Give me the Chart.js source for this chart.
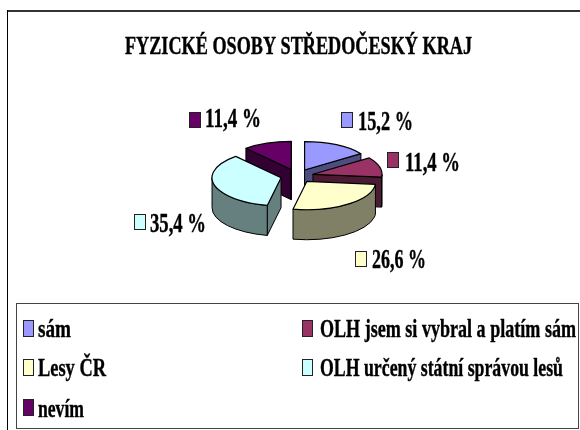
<!DOCTYPE html>
<html><head><meta charset="utf-8">
<style>html,body{margin:0;padding:0;background:#fff}canvas{display:block}</style>
<script src="https://cdn.jsdelivr.net/npm/chart.js@4/dist/chart.umd.js"></script>
</head><body><canvas id="c" width="580" height="430"></canvas>
<script>
const titleText = 'FYZICKÉ OSOBY STŘEDOČESKÝ KRAJ';
const categories = ['sám','OLH jsem si vybral a platím sám','Lesy ČR','OLH určený státní správou lesů','nevím'];
const values = [15.2,11.4,26.6,35.4,11.4];
const topColors = ['#9999FF','#993366','#FFFFCC','#CCFFFF','#660066'];
const sideColors = ['#4D4D80','#4D1A33','#808066','#668080','#330033'];

const SERIF = '"Liberation Serif"';
const SQUASH = 0.41, DEPTH = 30, EXPLODE = 16.5, RADIUS = 69, INK = '#000';
// [swatch x, swatch y, text x, baseline, text width] per slice
const labelBoxes = [[341,112,358,130,55],[387,152,405,171,55],[355,251,372,268,54],[134,214,150,232,56],[189,112,205,127,56]];
const legendBoxes = [[23,320,38,337,33],[302,320,320,337,256],[23,359,38,376,68],[302,359,320,376,243],[23,399,38,417,46]];

function squeezed(ctx,text,x,y,size,width){
  ctx.save();ctx.font='bold '+size+'px '+SERIF;ctx.fillStyle='#000';ctx.strokeStyle='#000';ctx.lineWidth=0.4;ctx.textAlign='left';ctx.textBaseline='alphabetic';
  ctx.fillText(text,x,y,width);ctx.strokeText(text,x,y,width);ctx.restore();
}
function swatch(ctx,x,y,w,h,c){ctx.save();ctx.fillStyle=c;ctx.strokeStyle='#222';ctx.lineWidth=1;ctx.fillRect(x+.5,y+.5,w,h);ctx.strokeRect(x+.5,y+.5,w,h);ctx.restore();}

function geom(arc){
  const a0=arc.startAngle,a1=arc.endAngle,mid=(a0+a1)/2;
  return {a0,a1,mid,R:arc.outerRadius,cx:arc.x+Math.cos(mid)*EXPLODE,cy:arc.y+Math.sin(mid)*EXPLODE*SQUASH};
}
function pt(g,a){return [g.cx+g.R*Math.cos(a),g.cy+SQUASH*g.R*Math.sin(a)];}
function radialFace(ctx,g,a,color){
  const e=pt(g,a);
  ctx.beginPath();ctx.moveTo(g.cx,g.cy);ctx.lineTo(e[0],e[1]);ctx.lineTo(e[0],e[1]+DEPTH);ctx.lineTo(g.cx,g.cy+DEPTH);ctx.closePath();
  ctx.fillStyle=color;ctx.fill();ctx.stroke();
}

const pie3d = {
  id:'pie3d',
  beforeDraw(chart){
    const ctx=chart.ctx;ctx.save();
    ctx.fillStyle='#fff';ctx.fillRect(0,0,580,430);
    ctx.strokeStyle='#333';ctx.lineWidth=2;ctx.beginPath();ctx.moveTo(7,11);ctx.lineTo(580,11);ctx.stroke();
    ctx.strokeStyle='#000';ctx.lineWidth=1;ctx.beginPath();ctx.moveTo(7.5,10);ctx.lineTo(7.5,430);ctx.stroke();
    ctx.strokeStyle='#444';ctx.lineWidth=1;ctx.strokeRect(16.5,303.5,562,125);
    ctx.restore();
  },
  beforeDatasetsDraw(chart){
    const ctx=chart.ctx,arcs=chart.getDatasetMeta(0).data;
    const order=arcs.map((a,i)=>[geom(a),i]).sort((p,q)=>p[0].cy-q[0].cy);
    ctx.save();ctx.strokeStyle=INK;ctx.lineWidth=1;ctx.lineJoin='round';
    order.forEach(([g,i])=>{
      const col=sideColors[i];
      if(-Math.cos(g.a0)>-1e-6)radialFace(ctx,g,g.a0,col);
      if(Math.cos(g.a1)>-1e-6)radialFace(ctx,g,g.a1,col);
      const s=Math.max(g.a0,0),e=Math.min(g.a1,Math.PI);
      if(e>s){
        ctx.beginPath();
        ctx.ellipse(g.cx,g.cy,g.R,g.R*SQUASH,0,s,e);
        ctx.ellipse(g.cx,g.cy+DEPTH,g.R,g.R*SQUASH,0,e,s,true);
        ctx.closePath();ctx.fillStyle=col;ctx.fill();ctx.stroke();
      }
    });
    ctx.restore();
    // the library's own arc elements paint the slice tops, each moved out and flattened
    arcs.forEach(arc=>{
      const g=geom(arc);
      ctx.save();ctx.translate(g.cx,g.cy);ctx.scale(1,SQUASH);ctx.translate(-arc.x,-arc.y);
      arc.draw(ctx);
      ctx.restore();
    });
    ctx.save();ctx.strokeStyle=INK;ctx.lineWidth=1.2;ctx.lineJoin='round';
    arcs.forEach(arc=>{
      const g=geom(arc);
      ctx.beginPath();ctx.moveTo(g.cx,g.cy);ctx.ellipse(g.cx,g.cy,g.R,g.R*SQUASH,0,g.a0,g.a1);ctx.closePath();ctx.stroke();
    });
    ctx.restore();
    return false;
  },
  afterDraw(chart){
    const ctx=chart.ctx;
    squeezed(ctx,titleText,125,54,26,347);
    values.forEach((v,i)=>{
      const b=labelBoxes[i];
      swatch(ctx,b[0],b[1],11,15,topColors[i]);
      squeezed(ctx,v.toFixed(1).replace('.',',')+' %',b[2],b[3],28,b[4]);
    });
    categories.forEach((t,i)=>{
      const b=legendBoxes[i];
      swatch(ctx,b[0],b[1],10,16,topColors[i]);
      squeezed(ctx,t,b[2],b[3],26,b[4]);
    });
  }
};

new Chart(document.getElementById('c'),{
  type:'pie',
  data:{labels:categories,datasets:[{
    data:values,backgroundColor:topColors,borderWidth:0,clip:false,radius:RADIUS
  }]},
  options:{
    responsive:false,animation:false,
    layout:{padding:{left:14,right:0,top:0,bottom:78}},
    plugins:{legend:{display:false},tooltip:{enabled:false},title:{display:false}}
  },
  plugins:[pie3d]
});
</script></body></html>
